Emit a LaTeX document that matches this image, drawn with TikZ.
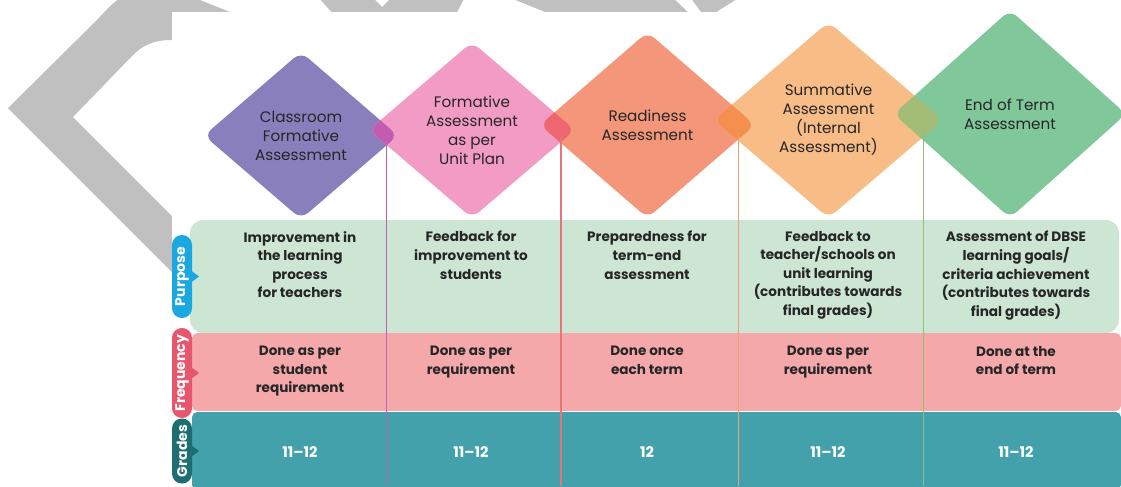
\documentclass[tikz,border=0pt]{standalone}
\usepackage{fontspec}
\setmainfont{Poppins}
\usepackage{xcolor}
\usetikzlibrary{shapes.geometric,calc}

\definecolor{cfaPurple}{HTML}{8A7FBD}
\definecolor{faPink}{HTML}{F29BC5}
\definecolor{raSalmon}{HTML}{F39679}
\definecolor{saOrange}{HTML}{F8BC86}
\definecolor{etGreen}{HTML}{80C79A}
\definecolor{ovA}{HTML}{C35CB0}
\definecolor{ovB}{HTML}{EE6670}
\definecolor{ovC}{HTML}{F58F4F}
\definecolor{ovD}{HTML}{A3BC76}
\definecolor{sepA}{HTML}{C060B2}
\definecolor{sepB}{HTML}{E8747A}
\definecolor{sepC}{HTML}{EFA06C}
\definecolor{sepD}{HTML}{93BD78}
\definecolor{purposeBg}{HTML}{CDE6D4}
\definecolor{freqBg}{HTML}{F5A8AA}
\definecolor{gradeBg}{HTML}{43A1AC}
\definecolor{purposeTab}{HTML}{1BA8E0}
\definecolor{freqTab}{HTML}{E8566D}
\definecolor{gradeTab}{HTML}{1E6E71}
\definecolor{watermark}{HTML}{C0C0C0}
\definecolor{inkText}{HTML}{262626}

\begin{document}
\begin{tikzpicture}[x=0.75pt,y=0.75pt,yscale=-1,xscale=1,
  stage/.style={diamond,rounded corners=7pt,inner sep=0pt,outer sep=0pt,text=inkText,align=center,font=\fontsize{11.4}{14.25}\selectfont},
  cell/.style={anchor=north,inner sep=0pt,align=center,text=inkText,font=\bfseries\fontsize{10.2}{13.9}\selectfont},
  grade/.style={inner sep=0pt,text=white,font=\bfseries\fontsize{11}{12}\selectfont},
  tab/.style={rotate=90,rounded corners=7.4pt,minimum height=15pt,inner sep=0pt,outer sep=0pt,text=white,font=\bfseries\fontsize{10.5}{11}\selectfont},
  sepline/.style={line width=1.1pt}]
\useasboundingbox (0,0) rectangle (1121,486);

%Shape: grey mark behind the card
\begin{scope}
\clip (0,0) rectangle (1121,486);
\fill[watermark] (172,272) -- (8,108) -- (97,20) .. controls (110,6) and (125,-12) .. (150,-12) -- (170,-12) -- (245,18) -- (172,18) -- (172,40) .. controls (152,40) and (142,46) .. (132,56) -- (73,117) -- (172,216) -- cycle;
\fill[watermark] (318,-3) -- (335,16) -- (455,16) -- (465,-3) -- (392,-3) -- (382,7) -- (372,-3) -- cycle;
\fill[watermark] (508,-3) -- (555,16) -- (692,16) -- (672,-3) -- cycle;
\fill[watermark] (690,-3) -- (704,16) -- (710,16) -- (740,-3) -- cycle;
\end{scope}

%Shape: card
\fill[white] (172,12) rectangle (1121,486);

%Shape: table rows
\fill[purposeBg,rounded corners=10pt] (190,220) rectangle (1119,333);
\fill[freqBg,rounded corners=4pt] (192,333) rectangle (1121,411);
\fill[gradeBg,rounded corners=4pt] (192,412) rectangle (1121,490);

%Shape: stages
\node[stage,fill=cfaPurple,minimum width=145.5pt,minimum height=125.25pt] (classroom) at (301,135.5) {};
\node[stage,fill=faPink,minimum width=154.5pt,minimum height=132pt] (formative) at (472,130) {};
\node[stage,fill=raSalmon,minimum width=161.25pt,minimum height=139.5pt] (readiness) at (647.5,125) {};
\node[stage,fill=saOrange,minimum width=171.75pt,minimum height=147pt] (summative) at (828.5,120) {};
\node[stage,fill=etGreen,minimum width=174pt,minimum height=156pt] (endterm) at (1010,114) {};

%Shape: overlaps of neighbouring stages
\begin{scope}
\clip[rounded corners=7pt] (classroom.north) -- (classroom.east) -- (classroom.south) -- (classroom.west) -- cycle;
\fill[ovA,rounded corners=7pt] (formative.north) -- (formative.east) -- (formative.south) -- (formative.west) -- cycle;
\end{scope}
\begin{scope}
\clip[rounded corners=7pt] (formative.north) -- (formative.east) -- (formative.south) -- (formative.west) -- cycle;
\fill[ovB,rounded corners=7pt] (readiness.north) -- (readiness.east) -- (readiness.south) -- (readiness.west) -- cycle;
\end{scope}
\begin{scope}
\clip[rounded corners=7pt] (readiness.north) -- (readiness.east) -- (readiness.south) -- (readiness.west) -- cycle;
\fill[ovC,rounded corners=7pt] (summative.north) -- (summative.east) -- (summative.south) -- (summative.west) -- cycle;
\end{scope}
\begin{scope}
\clip[rounded corners=7pt] (summative.north) -- (summative.east) -- (summative.south) -- (summative.west) -- cycle;
\fill[ovD,rounded corners=7pt] (endterm.north) -- (endterm.east) -- (endterm.south) -- (endterm.west) -- cycle;
\end{scope}

% Text Node
\node[stage] at (classroom) {Classroom\\Formative\\Assessment};
% Text Node
\node[stage] at (formative) {Formative\\Assessment\\as per\\Unit Plan};
% Text Node
\node[stage] at (readiness) {Readiness\\Assessment};
% Text Node
\node[stage] at (summative) {Summative\\Assessment\\(Internal\\Assessment)};
% Text Node
\node[stage] at (endterm) {End of Term\\Assessment};

%Shape: column separators
\coordinate (tblbottom) at (0,486);
\coordinate (j1) at ($(classroom.east)!0.4!(formative.west)$);
\coordinate (j2) at ($(formative.east)!0.4!(readiness.west)$);
\coordinate (j3) at ($(readiness.east)!0.4!(summative.west)$);
\coordinate (j4) at ($(summative.east)!0.4!(endterm.west)$);
\draw[sepline,draw=sepA] ($(j1)+(0,9)$) -- (j1 |- tblbottom);
\draw[sepline,draw=sepB] ($(j2)+(0,9)$) -- (j2 |- tblbottom);
\draw[sepline,draw=sepC] ($(j3)+(0,9)$) -- (j3 |- tblbottom);
\draw[sepline,draw=sepD] ($(j4)+(0,9)$) -- (j4 |- tblbottom);

% Text Node
\node[cell] (p1) at (300,231) {Improvement in\\the learning\\process\\for teachers};
\node[cell] (p2) at (471,231) {Feedback for\\improvement to\\students};
\node[cell] (p3) at (647,231) {Preparedness for\\term-end\\assessment};
\node[cell] (p4) at (828,231) {Feedback to\\teacher/schools on\\unit learning\\(contributes towards\\final grades)};
\node[cell] (p5) at (1016,231) {Assessment of DBSE\\learning goals/\\criteria achievement\\(contributes towards\\final grades)};
% Text Node
\node[cell] (f1) at (300,346) {Done as per\\student\\requirement};
\node[cell] (f2) at (471,346) {Done as per\\requirement};
\node[cell] (f3) at (647,346) {Done once\\each term};
\node[cell] (f4) at (828,346) {Done as per\\requirement};
\node[cell] (f5) at (1016,346) {Done at the\\end of term};
% Text Node
\node[grade] (g1) at (300,452) {11–12};
\node[grade] (g2) at (471,452) {11–12};
\node[grade] (g3) at (647,452) {12};
\node[grade] (g4) at (828,452) {11–12};
\node[grade] (g5) at (1016,452) {11–12};

%Shape: row tabs
\node[tab,fill=purposeTab,minimum width=62.25pt] (purpose) at (182,276.5) {Purpose};
\fill[purposeTab] ($(purpose.south)+(-1,-6)$) -- ($(purpose.south)+(7,0)$) -- ($(purpose.south)+(-1,6)$) -- cycle;
\node[tab,fill=freqTab,minimum width=67.5pt] (frequency) at (182,373) {Frequency};
\fill[freqTab] ($(frequency.south)+(-1,-6)$) -- ($(frequency.south)+(7,0)$) -- ($(frequency.south)+(-1,6)$) -- cycle;
\node[tab,fill=gradeTab,minimum width=48.75pt] (grades) at (182,451) {Grades};
\fill[gradeTab] ($(grades.south)+(-1,-6)$) -- ($(grades.south)+(7,0)$) -- ($(grades.south)+(-1,6)$) -- cycle;

\end{tikzpicture}
\end{document}
